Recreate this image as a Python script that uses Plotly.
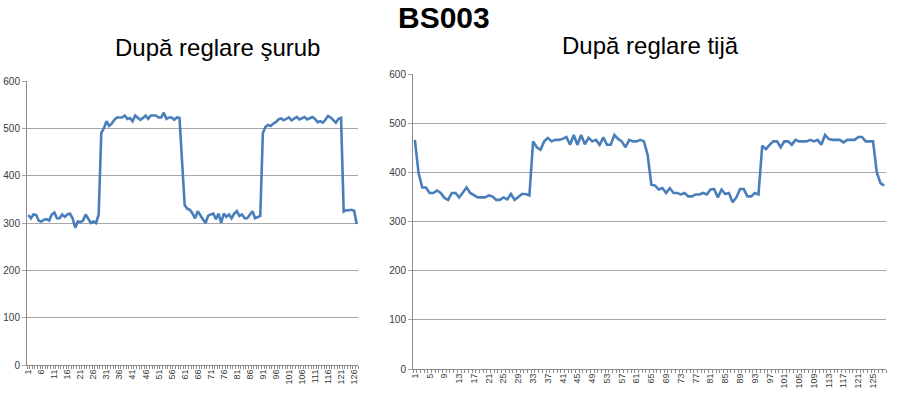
import plotly.graph_objects as go

main_title = "BS003"
left_title = "După reglare şurub"
right_title = "După reglare tijă"

left_values = [
    317, 310, 318, 317, 305, 303, 307, 308, 305, 318, 322, 310, 310, 318, 313, 318, 320, 310, 290, 303,
    302, 305, 318, 308, 300, 303, 300, 318,
    490, 500, 515, 505, 510, 518, 523, 523, 523, 527, 520, 522, 515, 527, 523, 518, 522, 527, 520, 527,
    527, 527, 523, 523, 533, 520, 523, 523, 518, 523, 522,
    430,
    338, 330, 328, 320, 310, 325, 315, 308, 300, 315, 318, 320, 308, 320, 300, 320, 313, 318, 310, 320,
    325, 315, 318, 310, 310, 318, 325, 310, 313, 315,
    490, 503, 507, 505, 510, 513, 519, 521, 517, 520, 523, 517, 520, 524, 519, 522, 524, 519, 522, 524,
    520, 513, 515, 512, 518, 526, 523, 518, 512, 520, 522,
    324, 327, 327, 328, 326, 298,
]

right_values = [
    466, 399, 369, 369, 358, 358, 363, 358, 348, 344, 358, 358, 349, 359, 369, 358, 353, 349, 349, 349,
    353, 351, 344, 344, 349, 345, 356, 344, 350, 356, 356, 353,
    463, 451, 446, 463, 470, 463, 466, 466, 468, 472, 456, 476, 456, 476, 457, 470, 463, 466, 456, 471,
    456, 456, 476, 468, 463, 451, 466, 463, 463, 466, 463, 435,
    375, 373, 365, 368, 358, 368, 358, 358, 355, 358, 351, 351, 355, 355, 358, 355, 365, 366, 349, 365,
    356, 358, 339, 349, 366, 366, 351, 351, 358, 355,
    454, 447, 456, 463, 463, 451, 463, 463, 456, 466, 463, 463, 463, 466, 463, 466, 456, 476, 468, 466,
    466, 466, 461, 466, 466, 466, 472, 472, 463, 463, 463,
    400, 378, 373,
]

left_x = list(range(1, len(left_values) + 1))
right_x = list(range(1, len(right_values) + 1))
left_ticks = list(range(1, len(left_values) + 1, 5))
right_ticks = list(range(1, len(right_values) + 1, 4))
y_ticks = [0, 100, 200, 300, 400, 500, 600]

W, H = 900, 401
LINE = "#4a7ebb"
GRID = "#a6a6a6"
TICKFONT = dict(family="Liberation Sans, Arial, sans-serif", size=10, color="#3a3a3a")
XTICKFONT = dict(family="Liberation Sans, Arial, sans-serif", size=9, color="#3a3a3a")


def px_x(v):
    return v / W


def px_y(v):
    return 1 - v / H


fig = go.Figure()
fig.add_trace(go.Scatter(x=left_x, y=left_values, mode="lines",
                         line=dict(color=LINE, width=2.6), xaxis="x", yaxis="y",
                         showlegend=False, hoverinfo="x+y"))
fig.add_trace(go.Scatter(x=right_x, y=right_values, mode="lines",
                         line=dict(color=LINE, width=2.6), xaxis="x2", yaxis="y2",
                         showlegend=False, hoverinfo="x+y"))


def xaxis_cfg(n, ticks, left_px, right_px, anchor):
    return dict(
        domain=[px_x(left_px), px_x(right_px)], anchor=anchor, automargin=False,
        range=[0.5, n + 0.5], tickmode="array", tickvals=ticks,
        ticktext=[str(t) for t in ticks], tickangle=-90, ticks="",
        tickfont=XTICKFONT, showgrid=False, zeroline=False,
        showline=True, linecolor="#8c8c8c", linewidth=1,
        minor=dict(tick0=0.5, dtick=1, ticks="outside", ticklen=3,
                   tickcolor="#8c8c8c", tickwidth=1, showgrid=False),
        fixedrange=True,
    )


def yaxis_cfg(top_px, bottom_px, anchor):
    return dict(
        domain=[px_y(bottom_px), px_y(top_px)], anchor=anchor, automargin=False,
        range=[0, 600], tickmode="array", tickvals=y_ticks,
        ticks="outside", ticklen=4, tickcolor=GRID, tickfont=TICKFONT,
        showgrid=True, gridcolor=GRID, gridwidth=1, zeroline=False,
        showline=True, linecolor="#8c8c8c", linewidth=1, fixedrange=True,
    )


fig.update_layout(
    width=W, height=H,
    margin=dict(l=0, r=0, t=0, b=0, autoexpand=False),
    paper_bgcolor="white", plot_bgcolor="white",
    xaxis=xaxis_cfg(len(left_values), left_ticks, 27, 358, "y"),
    yaxis=yaxis_cfg(81, 365, "x"),
    xaxis2=xaxis_cfg(len(right_values), right_ticks, 413, 886, "y2"),
    yaxis2=yaxis_cfg(74, 369, "x2"),
    annotations=[
        dict(text="<b>" + main_title + "</b>", x=px_x(444), y=px_y(17), xref="paper", yref="paper",
             showarrow=False, xanchor="center", yanchor="middle",
             font=dict(family="Liberation Sans, Arial, sans-serif", size=30, color="black")),
        dict(text=left_title, x=px_x(217), y=px_y(47), xref="paper", yref="paper",
             showarrow=False, xanchor="center", yanchor="middle",
             font=dict(family="Liberation Sans, Arial, sans-serif", size=24, color="black")),
        dict(text=right_title, x=px_x(650), y=px_y(45), xref="paper", yref="paper",
             showarrow=False, xanchor="center", yanchor="middle",
             font=dict(family="Liberation Sans, Arial, sans-serif", size=24, color="black")),
    ],
)

fig.write_html(
    "out.html",
    config={"displayModeBar": False, "staticPlot": False},
    post_script="document.body.style.margin='0';document.body.style.padding='0';"
                "document.body.style.overflow='hidden';",
)
